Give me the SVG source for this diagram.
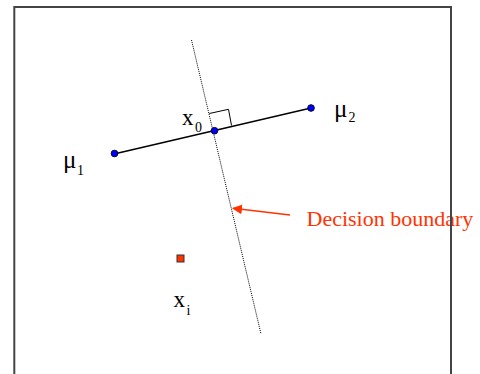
<svg xmlns="http://www.w3.org/2000/svg" width="480" height="374" viewBox="0 0 480 374">
<style>
.lbl{font-family:"Liberation Serif","Times New Roman",serif;fill:#000}
.sub{font-family:"Liberation Serif","Times New Roman",serif;font-size:14px;fill:#000}
.dot{fill:#0000ff;stroke:#000033;stroke-width:1}
</style>
<defs>
<marker id="ah" viewBox="0 0 10 10" refX="9" refY="5" markerWidth="10" markerHeight="10" markerUnits="userSpaceOnUse" orient="auto">
<path d="M0,0 L10,5 L0,10 z" fill="#ff3300"/>
</marker>
</defs>
<rect x="0" y="0" width="480" height="374" fill="#fff"/>
<g id="connectors">
<line x1="191.5" y1="40" x2="261" y2="334" stroke="#000" stroke-width="1" stroke-dasharray="1,1"/>
<line x1="114" y1="154" x2="311" y2="108" stroke="#000" stroke-width="1.5"/>
<polyline points="209.3,113.5 228.5,109.3 231.5,125.5" fill="none" stroke="#000" stroke-width="1"/>
<line x1="290" y1="215" x2="233" y2="208.3" stroke="#ff3300" stroke-width="1.5" marker-end="url(#ah)"/>
</g>
<g id="mu1">
<circle class="dot" cx="114.5" cy="153.5" r="3.3"/>
<text class="lbl" x="63" y="168" font-size="25">μ</text>
<text class="sub" x="77" y="175">1</text>
</g>
<g id="mu2">
<circle class="dot" cx="311" cy="108" r="3.3"/>
<text class="lbl" x="334" y="117" font-size="25">μ</text>
<text class="sub" x="348.5" y="122">2</text>
</g>
<g id="x0">
<circle class="dot" cx="214.5" cy="130.7" r="3.3"/>
<text class="lbl" x="182" y="125" font-size="23">x</text>
<text class="sub" x="195" y="131.5">0</text>
</g>
<g id="xi">
<rect x="177" y="255" width="7" height="7" fill="#ff3300" stroke="#333" stroke-width="1"/>
<text class="lbl" x="173.5" y="307" font-size="23">x</text>
<text class="sub" x="186.5" y="315">i</text>
</g>
<g id="label">
<text x="306.5" y="225.5" font-family="'Liberation Serif','Times New Roman',serif" font-size="22" fill="#ff3300">Decision boundary</text>
</g>
<g id="frame">
<path d="M14.3,380 V7 H451 V380" fill="none" stroke="#444" stroke-width="2"/>
</g>
</svg>
